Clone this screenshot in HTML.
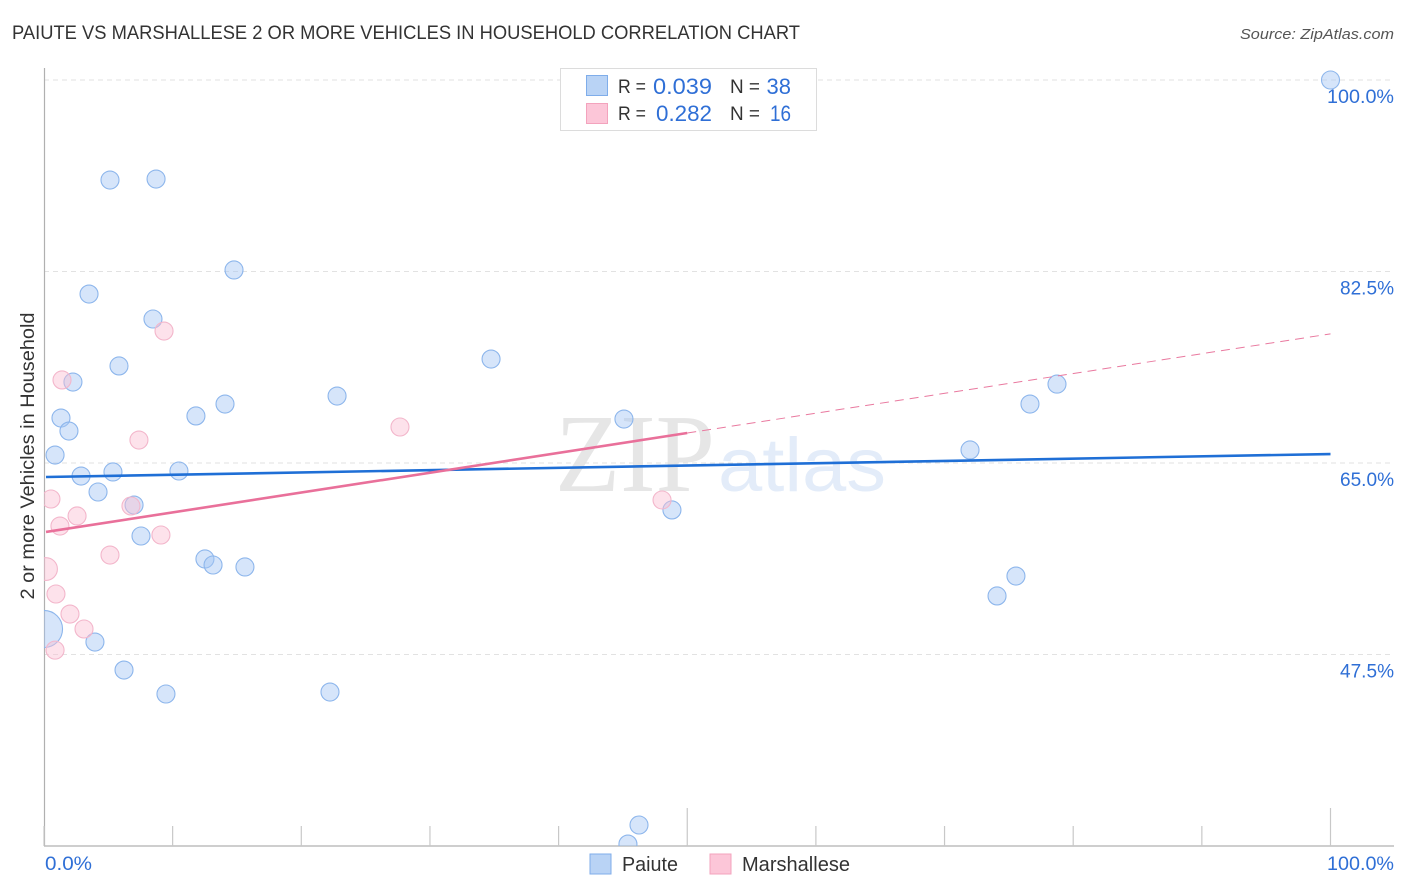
<!DOCTYPE html>
<html lang="en">
<head>
<meta charset="utf-8">
<title>Paiute vs Marshallese 2 or more Vehicles in Household Correlation Chart</title>
<style>
html,body{margin:0;padding:0;background:#fff;}
body{width:1406px;height:892px;overflow:hidden;font-family:"Liberation Sans",sans-serif;}
svg{display:block;}
text{font-family:"Liberation Sans",sans-serif;}
</style>
</head>
<body>
<svg id="chart" width="1406" height="892" viewBox="0 0 1406 892">
  <defs>
    <clipPath id="plot-clip"><rect x="44" y="68" width="1350" height="778"/></clipPath>
  </defs>
  <text x="12" y="39" font-size="19" fill="#333" textLength="788" lengthAdjust="spacingAndGlyphs">PAIUTE VS MARSHALLESE 2 OR MORE VEHICLES IN HOUSEHOLD CORRELATION CHART</text>
  <text x="1394" y="39" font-size="15" font-style="italic" fill="#555" text-anchor="end" textLength="154" lengthAdjust="spacingAndGlyphs">Source: ZipAtlas.com</text>
  <text x="555" y="491" font-size="111" style="font-family:'Liberation Serif',serif" fill="#e6e6e6" textLength="160" lengthAdjust="spacingAndGlyphs">ZIP</text>
  <text x="718" y="491" font-size="76" fill="#e3ecf9" textLength="168" lengthAdjust="spacingAndGlyphs">atlas</text>
  <g id="grid"></g>
  <g id="axes"></g>
  <g id="points" clip-path="url(#plot-clip)"></g>
  <g id="trends"></g>
  <g id="labels"></g>
  <text transform="translate(34,456) rotate(-90)" font-size="19" fill="#333" text-anchor="middle" textLength="287" lengthAdjust="spacingAndGlyphs">2 or more Vehicles in Household</text>

  <g>
    <rect x="560.5" y="68.5" width="256" height="62" fill="#fff" stroke="#dcdcdc"/>
    <rect x="586.5" y="75.5" width="21" height="20" fill="#b9d3f5" stroke="#7fadea"/>
    <rect x="586.5" y="103.5" width="21" height="20" fill="#fcc6d8" stroke="#f3a3bd"/>
    <text x="618" y="93" font-size="19" fill="#333" textLength="28" lengthAdjust="spacingAndGlyphs">R =</text>
    <text x="712" y="94" font-size="22" fill="#2f6fd6" text-anchor="end" textLength="59" lengthAdjust="spacingAndGlyphs">0.039</text>
    <text x="730" y="93" font-size="19" fill="#333" textLength="30" lengthAdjust="spacingAndGlyphs">N =</text>
    <text x="791" y="94" font-size="22" fill="#2f6fd6" text-anchor="end">38</text>
    <text x="618" y="120" font-size="19" fill="#333" textLength="28" lengthAdjust="spacingAndGlyphs">R =</text>
    <text x="712" y="121" font-size="22" fill="#2f6fd6" text-anchor="end" textLength="56" lengthAdjust="spacingAndGlyphs">0.282</text>
    <text x="730" y="120" font-size="19" fill="#333" textLength="30" lengthAdjust="spacingAndGlyphs">N =</text>
    <text x="791" y="121" font-size="22" fill="#2f6fd6" text-anchor="end" textLength="21" lengthAdjust="spacingAndGlyphs">16</text>
  </g>

  <g>
    <rect x="590" y="854" width="21" height="20" fill="#b9d3f5" stroke="#7fadea"/>
    <text x="622" y="871" font-size="20" fill="#333" textLength="56" lengthAdjust="spacingAndGlyphs">Paiute</text>
    <rect x="710" y="854" width="21" height="20" fill="#fcc6d8" stroke="#f3a3bd"/>
    <text x="742" y="871" font-size="20" fill="#333" textLength="108" lengthAdjust="spacingAndGlyphs">Marshallese</text>
  </g>
</svg>
<script>
const yTickValues = [100, 82.5, 65, 47.5];
const yTickLabels = ['100.0%', '82.5%', '65.0%', '47.5%'];
const xTickValues = [0, 10, 20, 30, 40, 50, 60, 70, 80, 90, 100];
const xMajorTicks = [50, 100];
const xEdgeLabels = ['0.0%', '100.0%'];

const paiuteX = [5.13, 8.71, 14.77, 3.50, 8.47, 5.83, 34.75, 2.25, 14.07, 22.78, 11.81, 1.32, 1.94, 0.86, 45.08, 76.64, 78.74, 71.98, 2.88, 5.36, 10.49, 4.20, 7.00, 48.81, 7.54, 12.51, 13.14, 15.62, 75.55, 74.08, 3.96, 6.22, 9.48, 22.23, 46.25, 45.39, 100, 0];
const paiuteY = [90.86, 90.95, 82.64, 80.44, 78.16, 73.87, 74.50, 72.40, 70.39, 71.12, 69.30, 69.11, 67.92, 65.73, 69.02, 70.39, 72.21, 66.19, 63.81, 64.18, 64.27, 62.35, 61.16, 60.71, 58.33, 56.23, 55.68, 55.50, 54.67, 52.85, 48.64, 46.08, 43.89, 44.07, 31.92, 30.18, 100, 49.83];
const paiuteWeight = [1, 1, 1, 1, 1, 1, 1, 1, 1, 1, 1, 1, 1, 1, 1, 1, 1, 1, 1, 1, 1, 1, 1, 1, 1, 1, 1, 1, 1, 1, 1, 1, 1, 1, 1, 1, 1, 4];

const marshalleseX = [9.33, 1.40, 27.67, 7.38, 0.54, 6.76, 2.57, 1.24, 9.09, 5.13, 0.16, 0.93, 2.02, 3.11, 0.86, 48.04];
const marshalleseY = [77.06, 72.59, 68.29, 67.10, 61.71, 61.07, 60.16, 59.24, 58.42, 56.59, 55.31, 53.03, 51.20, 49.83, 47.90, 61.62];
const marshalleseWeight = [1, 1, 1, 1, 1, 1, 1, 1, 1, 1, 1.5, 1, 1, 1, 1, 1];

const paiuteTrendX = [0, 100];
const paiuteTrendY = [63.72, 65.82];
const marshalleseTrendX = [0, 50];
const marshalleseTrendY = [58.7, 67.74];
const marshalleseDashX = [50, 100];
const marshalleseDashY = [67.74, 76.8];

const NS = 'http://www.w3.org/2000/svg';
const sx = v => 44 + v * 12.865;
const sy = v => 80 + (100 - v) * 10.943;
const radius = w => 9 * Math.sqrt(w) * (w > 1 ? 1.03 : 1);

function make(parentId, tag, attrs, text) {
  const el = document.createElementNS(NS, tag);
  for (const k in attrs) el.setAttribute(k, attrs[k]);
  if (text !== undefined) el.textContent = text;
  document.getElementById(parentId).appendChild(el);
  return el;
}

yTickValues.forEach((v, i) => {
  const line = make('grid', 'line', {x1: 44, x2: 1394, y1: sy(v), y2: sy(v), stroke: '#e2e2e2', 'stroke-width': 1, 'stroke-dasharray': '5 4'});
  
  
  const lab = make('labels', 'text', {x: 1394, y: sy(v) + 23, 'font-size': 19, fill: '#2f6fd6', 'text-anchor': 'end', textLength: yTickLabels[i].length > 5 ? 67 : 54, lengthAdjust: 'spacingAndGlyphs'}, yTickLabels[i]);
  
  
});

const yAxis = make('axes', 'line', {x1: 44.5, x2: 44.5, y1: 68, y2: 846, stroke: '#b0b0b0', 'stroke-width': 1.2});


const xAxis = make('axes', 'line', {x1: 44, x2: 1394, y1: 846, y2: 846, stroke: '#b0b0b0', 'stroke-width': 1.2});



xTickValues.forEach(v => {
  const top = xMajorTicks.includes(v) ? 808 : 826;
  const tick = make('axes', 'line', {x1: sx(v), x2: sx(v), y1: top, y2: 846, stroke: '#c8c8c8', 'stroke-width': 1.2});
  
  
});

const xLab0 = make('labels', 'text', {x: 45, y: 870, 'font-size': 19, fill: '#2f6fd6', textLength: 47, lengthAdjust: 'spacingAndGlyphs'}, xEdgeLabels[0]);


const xLab1 = make('labels', 'text', {x: 1394, y: 870, 'font-size': 19, fill: '#2f6fd6', 'text-anchor': 'end', textLength: 67, lengthAdjust: 'spacingAndGlyphs'}, xEdgeLabels[1]);



paiuteX.forEach((x, i) => {
  const c = make('points', 'circle', {cx: sx(x), cy: sy(paiuteY[i]), r: radius(paiuteWeight[i]), fill: 'rgba(165,198,243,0.45)', stroke: '#8db6ec', 'stroke-width': 1.1});
  
  
});
marshalleseX.forEach((x, i) => {
  const c = make('points', 'circle', {cx: sx(x), cy: sy(marshalleseY[i]), r: radius(marshalleseWeight[i]), fill: 'rgba(250,190,210,0.45)', stroke: '#f3b6cb', 'stroke-width': 1.1});
  
  
});

const blueTrend = make('trends', 'line', {x1: sx(paiuteTrendX[0]) + 2, x2: sx(paiuteTrendX[1]), y1: sy(paiuteTrendY[0]), y2: sy(paiuteTrendY[1]), stroke: '#1f6fd6', 'stroke-width': 2.6});


const pinkTrend = make('trends', 'line', {x1: sx(marshalleseTrendX[0]) + 2, x2: sx(marshalleseTrendX[1]), y1: sy(marshalleseTrendY[0]), y2: sy(marshalleseTrendY[1]), stroke: '#e9709a', 'stroke-width': 2.6});


const pinkDash = make('trends', 'line', {x1: sx(marshalleseDashX[0]), x2: sx(marshalleseDashX[1]), y1: sy(marshalleseDashY[0]), y2: sy(marshalleseDashY[1]), stroke: '#e9799f', 'stroke-width': 1, 'stroke-dasharray': '9 6'});


</script>
</body>
</html>
